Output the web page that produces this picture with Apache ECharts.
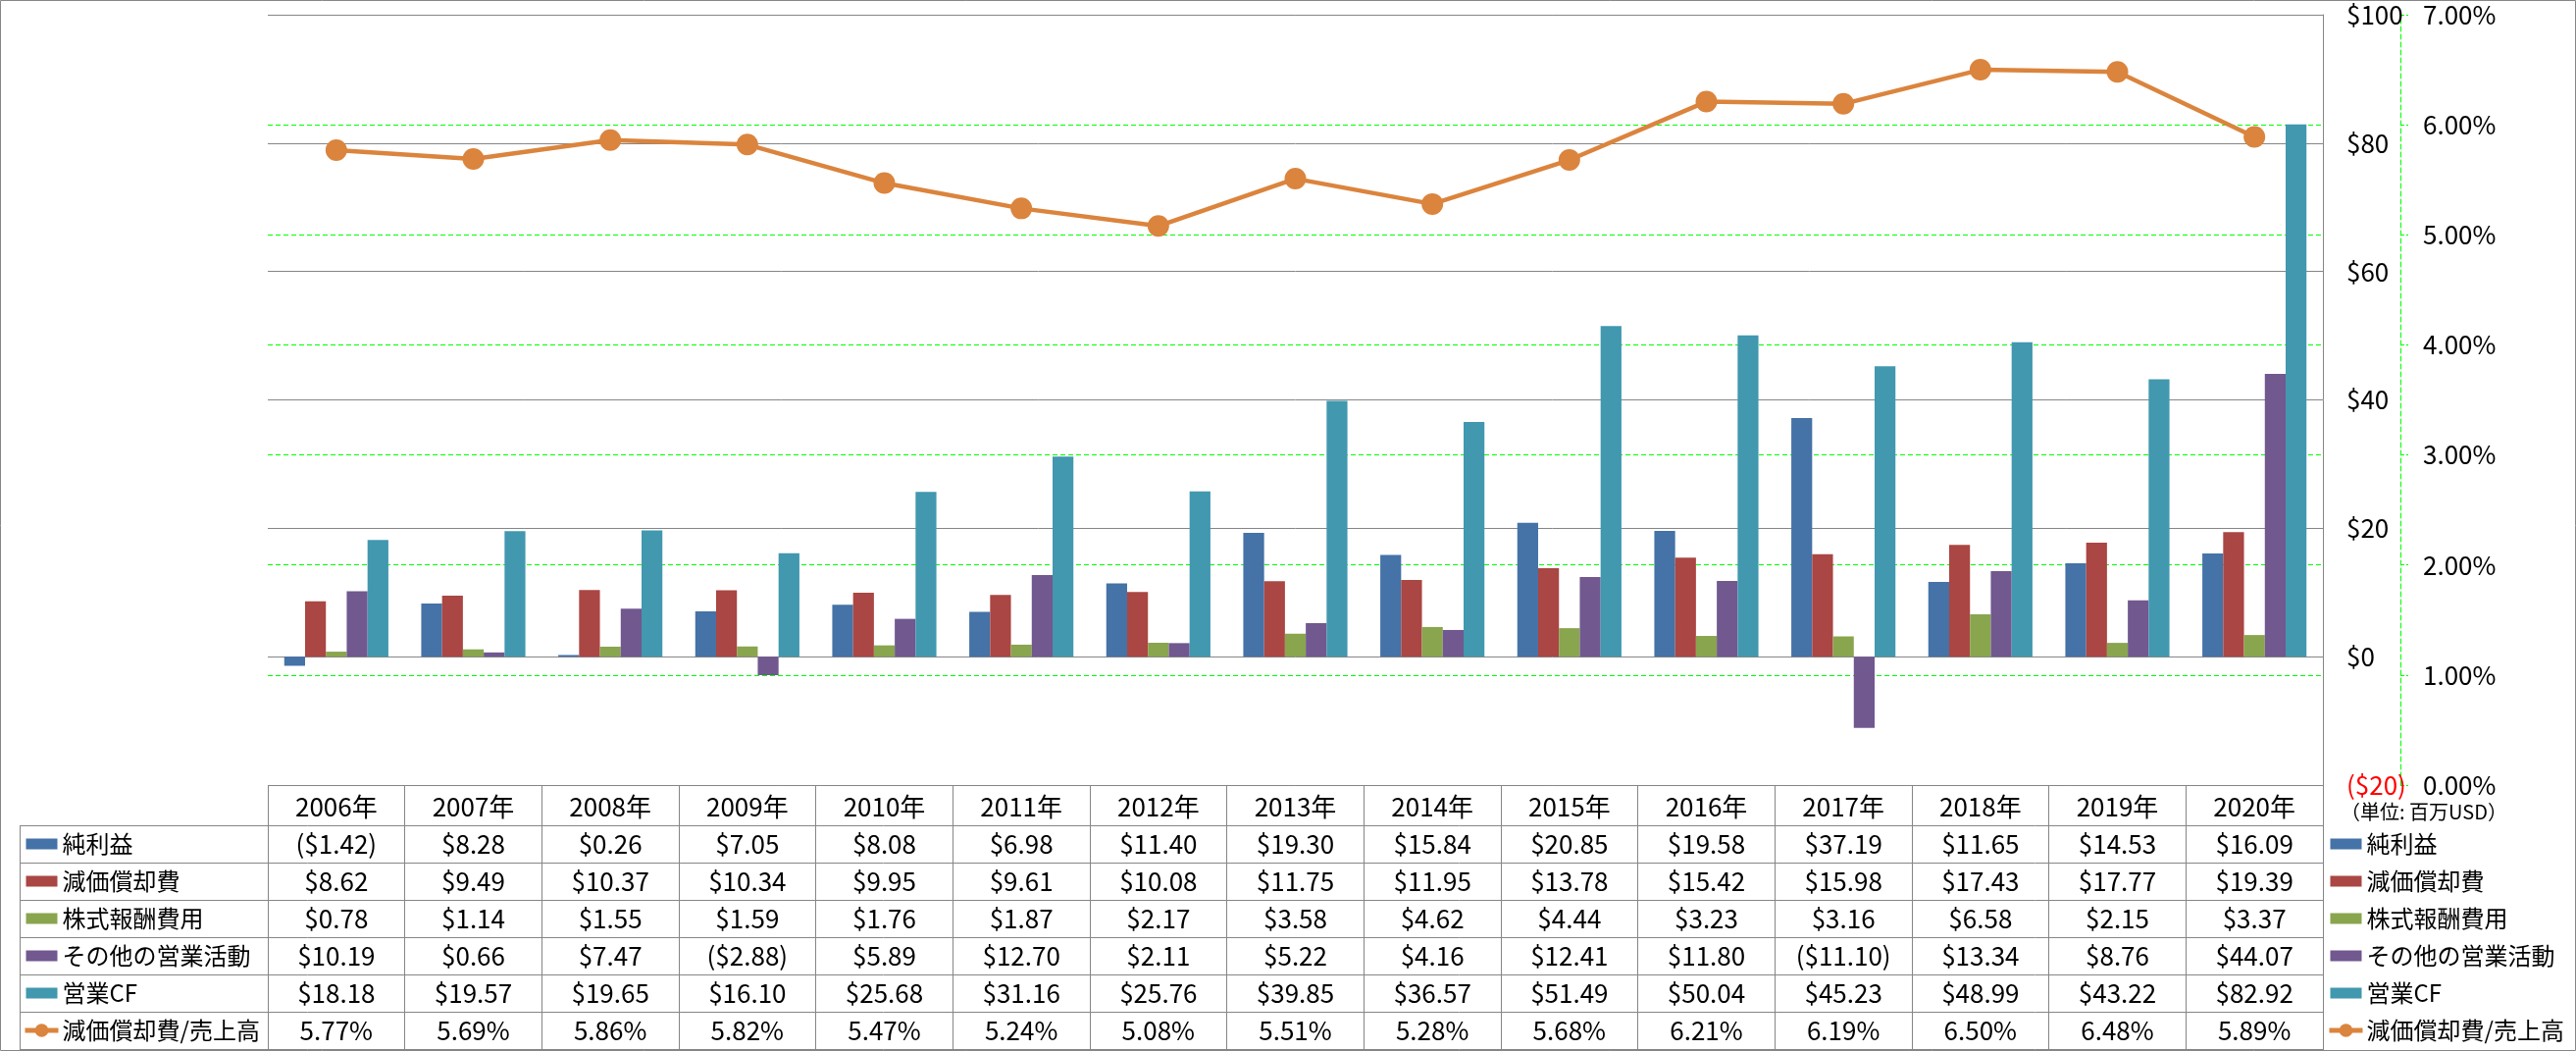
<!DOCTYPE html>
<html>
<head>
<meta charset="utf-8">
<script src="https://cdn.jsdelivr.net/npm/echarts@6/dist/echarts.min.js"></script>
<style>
html,body{margin:0;padding:0;background:#fff;}
#chart{width:2626px;height:1071px;}
</style>
</head>
<body>
<div id="chart"></div>
<script>
const years = ['2006年','2007年','2008年','2009年','2010年','2011年','2012年','2013年','2014年','2015年','2016年','2017年','2018年','2019年','2020年'];
const netIncome = [-1.42, 8.28, 0.26, 7.05, 8.08, 6.98, 11.40, 19.30, 15.84, 20.85, 19.58, 37.19, 11.65, 14.53, 16.09];
const depreciation = [8.62, 9.49, 10.37, 10.34, 9.95, 9.61, 10.08, 11.75, 11.95, 13.78, 15.42, 15.98, 17.43, 17.77, 19.39];
const stockComp = [0.78, 1.14, 1.55, 1.59, 1.76, 1.87, 2.17, 3.58, 4.62, 4.44, 3.23, 3.16, 6.58, 2.15, 3.37];
const otherOps = [10.19, 0.66, 7.47, -2.88, 5.89, 12.70, 2.11, 5.22, 4.16, 12.41, 11.80, -11.10, 13.34, 8.76, 44.07];
const operatingCF = [18.18, 19.57, 19.65, 16.10, 25.68, 31.16, 25.76, 39.85, 36.57, 51.49, 50.04, 45.23, 48.99, 43.22, 82.92];
const depRatio = [5.77, 5.69, 5.86, 5.82, 5.47, 5.24, 5.08, 5.51, 5.28, 5.68, 6.21, 6.19, 6.50, 6.48, 5.89];

const seriesNames = ['純利益','減価償却費','株式報酬費用','その他の営業活動','営業CF','減価償却費/売上高'];
const colors = ['#4572A7','#AA4643','#89A54E','#71588F','#4198AF','#DB843D'];
const unitText = '（単位: 百万USD）';

const numFont = '"Liberation Sans Narrow", "Noto Sans CJK JP", sans-serif';
const jpFont = '"Noto Sans CJK JP", sans-serif';
const gray = '#868686';
const green = '#00FF00';

function fmtUsd(v){ return v < 0 ? '($' + Math.abs(v).toFixed(2) + ')' : '$' + v.toFixed(2); }
function fmtPct(v){ return v.toFixed(2) + '%'; }

const rows = [
  {data: netIncome, fmt: fmtUsd},
  {data: depreciation, fmt: fmtUsd},
  {data: stockComp, fmt: fmtUsd},
  {data: otherOps, fmt: fmtUsd},
  {data: operatingCF, fmt: fmtUsd},
  {data: depRatio, fmt: fmtPct}
];

const gridTop = 15, gridBottomY = 800, gridLeft = 273, gridRight = 2368;
const rowH = 38, headerBottom = 841;

const xAxes = [{
  type: 'category', data: years, position: 'bottom', gridIndex: 0,
  axisLine: {show: false, onZero: false},
  axisTick: {show: true, length: 269, interval: 0, lineStyle: {color: gray, width: 1}},
  axisLabel: {interval: 0, margin: 22, verticalAlign: 'middle', fontSize: 26, fontFamily: numFont, color: '#000'}
}];
rows.forEach((r, i) => {
  xAxes.push({
    type: 'category', data: years, position: 'bottom', gridIndex: 0,
    offset: headerBottom - gridBottomY + rowH * i + rowH / 2,
    axisLine: {show: false, onZero: false}, axisTick: {show: false}, splitLine: {show: false},
    axisLabel: {interval: 0, margin: 0, verticalAlign: 'middle', fontSize: 26, fontFamily: numFont, color: '#000',
      formatter: (val, idx) => r.fmt(r.data[idx])}
  });
});

const graphics = [];
graphics.push({type: 'rect', z: 100, shape: {x: 0.5, y: 0.5, width: 2625, height: 1070}, style: {fill: 'none', stroke: gray, lineWidth: 1}, silent: true});
graphics.push({type: 'line', z: 100, shape: {x1: gridLeft, y1: gridTop + 0.5, x2: gridRight, y2: gridTop + 0.5}, style: {stroke: gray, lineWidth: 1}, silent: true});
graphics.push({type: 'line', z: 100, shape: {x1: gridLeft, y1: gridBottomY + 0.5, x2: gridRight, y2: gridBottomY + 0.5}, style: {stroke: gray, lineWidth: 1}, silent: true});
for (let i = 0; i <= 6; i++) {
  const y = headerBottom + rowH * i + 0.5;
  graphics.push({type: 'line', z: 100, shape: {x1: 20, y1: y, x2: gridRight, y2: y}, style: {stroke: gray, lineWidth: 1}, silent: true});
}
graphics.push({type: 'line', z: 100, shape: {x1: 20.5, y1: headerBottom, x2: 20.5, y2: headerBottom + rowH * 6}, style: {stroke: gray, lineWidth: 1}, silent: true});
graphics.push({type: 'line', z: 100, shape: {x1: gridRight + 0.5, y1: gridBottomY, x2: gridRight + 0.5, y2: 1071}, style: {stroke: gray, lineWidth: 1}, silent: true});
graphics.push({type: 'text', z: 100, left: 2386, top: 817, style: {text: unitText, font: '20px "Noto Sans CJK JP"', fill: '#000'}, silent: true});

const barIcon = 'path://M0,0M1,3L33,3L33,14L1,14ZM34,17';
function legendData(){
  return seriesNames.map((n, i) => i < 5 ? {name: n, icon: barIcon} : {name: n});
}
const legendCommon = {
  orient: 'vertical', top: headerBottom, padding: 0, itemGap: 0,
  itemWidth: 34, itemHeight: 17, selectedMode: false,
  lineStyle: {width: 5},
  textStyle: {fontSize: 24, fontFamily: jpFont, color: '#000', lineHeight: 38, padding: [0, 0, 0, -1]}
};

const option = {
  animation: false,
  backgroundColor: '#fff',
  color: colors,
  grid: {left: gridLeft, right: 2626 - gridRight, top: gridTop, bottom: 1071 - gridBottomY, containLabel: false},
  legend: [
    Object.assign({left: 23, data: legendData()}, legendCommon),
    Object.assign({left: 2372, data: legendData()}, legendCommon)
  ],
  xAxis: xAxes,
  yAxis: [
    {
      type: 'value', min: -20, max: 100, interval: 20, position: 'right',
      axisLine: {show: true, lineStyle: {color: gray, width: 1}},
      axisTick: {show: false},
      splitLine: {show: true, lineStyle: {color: gray, width: 1}},
      axisLabel: {margin: 24, align: 'left', fontSize: 26, fontFamily: numFont, color: '#000',
        formatter: v => v < 0 ? '{neg|($' + Math.abs(v) + ')}' : '$' + v,
        rich: {neg: {color: '#FF0000', fontSize: 26, fontFamily: numFont}}}
    },
    {
      type: 'value', min: 0, max: 7, interval: 1, position: 'right', offset: 79,
      axisLine: {show: true, lineStyle: {color: green, width: 1, type: [5, 3]}},
      axisTick: {show: true, length: 8, lineStyle: {color: green, width: 1, type: [4, 2]}},
      splitLine: {show: true, lineStyle: {color: green, width: 1, type: [5, 3]}},
      axisLabel: {margin: 23, align: 'left', fontSize: 26, fontFamily: numFont, color: '#000',
        formatter: v => v.toFixed(2) + '%'}
    }
  ],
  graphic: graphics,
  series: [
    {name: seriesNames[0], type: 'bar', data: netIncome, barGap: '0%', barCategoryGap: '24%'},
    {name: seriesNames[1], type: 'bar', data: depreciation},
    {name: seriesNames[2], type: 'bar', data: stockComp},
    {name: seriesNames[3], type: 'bar', data: otherOps},
    {name: seriesNames[4], type: 'bar', data: operatingCF},
    {name: seriesNames[5], type: 'line', yAxisIndex: 1, data: depRatio, symbol: 'circle', symbolSize: 22,
      lineStyle: {width: 4.5, color: colors[5]}, itemStyle: {color: colors[5]}, z: 5}
  ]
};

const chart = echarts.init(document.getElementById('chart'), null, {renderer: 'canvas'});
chart.setOption(option);
</script>
</body>
</html>
